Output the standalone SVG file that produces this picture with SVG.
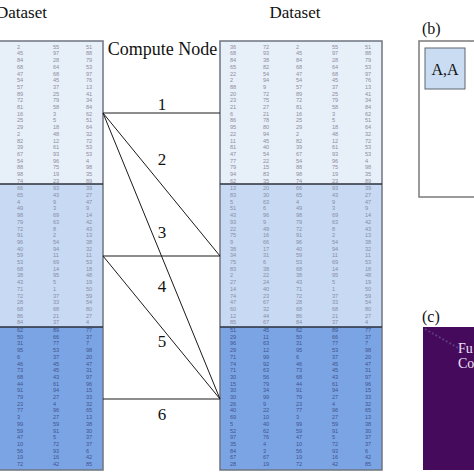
<svg xmlns="http://www.w3.org/2000/svg" xmlns:xlink="http://www.w3.org/1999/xlink" width="474" height="474" viewBox="0 0 474 474">
<style>
.lbl{font-family:"Liberation Serif","Times New Roman",serif;fill:#111}
.n{font-family:"Liberation Sans",Arial,sans-serif;font-size:5.6px}
.t1{fill:#8e8e9e}
.t2{fill:#8a8ea6}
.t3{fill:#42558c}
.conn{stroke:#1a1a1a;stroke-width:1;fill:none}
</style>
<defs>
<g id="ds">
<rect x="220" y="41" width="162" height="143" fill="#e7eff9"/>
<rect x="220" y="184" width="162" height="143" fill="#c7d9f3"/>
<rect x="220" y="327" width="162" height="143" fill="#7ba4e5"/>
<rect x="220" y="41" width="162" height="429" fill="none" stroke="#6f7480" stroke-width="1.5"/>
<line x1="220" y1="184" x2="382" y2="184" stroke="#2b2f3a" stroke-width="1.3"/>
<line x1="220" y1="327" x2="382" y2="327" stroke="#2b2f3a" stroke-width="1.3"/>
<g class="n t1">
<text y="48.7"><tspan x="230">36</tspan><tspan x="263">72</tspan><tspan x="296">2</tspan><tspan x="332">55</tspan><tspan x="365">51</tspan></text>
<text y="55.4"><tspan x="230">68</tspan><tspan x="263">93</tspan><tspan x="296">45</tspan><tspan x="332">97</tspan><tspan x="365">88</tspan></text>
<text y="62.1"><tspan x="230">84</tspan><tspan x="263">38</tspan><tspan x="296">84</tspan><tspan x="332">28</tspan><tspan x="365">79</tspan></text>
<text y="68.8"><tspan x="230">65</tspan><tspan x="263">82</tspan><tspan x="296">68</tspan><tspan x="332">64</tspan><tspan x="365">53</tspan></text>
<text y="75.5"><tspan x="230">22</tspan><tspan x="263">54</tspan><tspan x="296">47</tspan><tspan x="332">68</tspan><tspan x="365">97</tspan></text>
<text y="82.2"><tspan x="230">2</tspan><tspan x="263">94</tspan><tspan x="296">54</tspan><tspan x="332">45</tspan><tspan x="365">76</tspan></text>
<text y="88.9"><tspan x="230">88</tspan><tspan x="263">9</tspan><tspan x="296">57</tspan><tspan x="332">37</tspan><tspan x="365">13</tspan></text>
<text y="95.6"><tspan x="230">20</tspan><tspan x="263">72</tspan><tspan x="296">89</tspan><tspan x="332">25</tspan><tspan x="365">41</tspan></text>
<text y="102.3"><tspan x="230">23</tspan><tspan x="263">75</tspan><tspan x="296">72</tspan><tspan x="332">79</tspan><tspan x="365">34</tspan></text>
<text y="109"><tspan x="230">21</tspan><tspan x="263">27</tspan><tspan x="296">81</tspan><tspan x="332">58</tspan><tspan x="365">84</tspan></text>
<text y="115.7"><tspan x="230">6</tspan><tspan x="263">21</tspan><tspan x="296">16</tspan><tspan x="332">3</tspan><tspan x="365">62</tspan></text>
<text y="122.4"><tspan x="230">86</tspan><tspan x="263">78</tspan><tspan x="296">25</tspan><tspan x="332">5</tspan><tspan x="365">51</tspan></text>
<text y="129.1"><tspan x="230">95</tspan><tspan x="263">80</tspan><tspan x="296">29</tspan><tspan x="332">18</tspan><tspan x="365">64</tspan></text>
<text y="135.8"><tspan x="230">22</tspan><tspan x="263">94</tspan><tspan x="296">2</tspan><tspan x="332">48</tspan><tspan x="365">32</tspan></text>
<text y="142.5"><tspan x="230">11</tspan><tspan x="263">45</tspan><tspan x="296">82</tspan><tspan x="332">12</tspan><tspan x="365">72</tspan></text>
<text y="149.2"><tspan x="230">81</tspan><tspan x="263">40</tspan><tspan x="296">39</tspan><tspan x="332">61</tspan><tspan x="365">53</tspan></text>
<text y="155.9"><tspan x="230">47</tspan><tspan x="263">54</tspan><tspan x="296">67</tspan><tspan x="332">93</tspan><tspan x="365">53</tspan></text>
<text y="162.6"><tspan x="230">77</tspan><tspan x="263">22</tspan><tspan x="296">54</tspan><tspan x="332">96</tspan><tspan x="365">4</tspan></text>
<text y="169.3"><tspan x="230">79</tspan><tspan x="263">15</tspan><tspan x="296">88</tspan><tspan x="332">75</tspan><tspan x="365">98</tspan></text>
<text y="176"><tspan x="230">94</tspan><tspan x="263">83</tspan><tspan x="296">98</tspan><tspan x="332">19</tspan><tspan x="365">35</tspan></text>
<text y="182.7"><tspan x="230">62</tspan><tspan x="263">35</tspan><tspan x="296">74</tspan><tspan x="332">23</tspan><tspan x="365">89</tspan></text>
</g>
<g class="n t2">
<text y="190.3"><tspan x="230">13</tspan><tspan x="263">20</tspan><tspan x="296">66</tspan><tspan x="332">93</tspan><tspan x="365">39</tspan></text>
<text y="197"><tspan x="230">83</tspan><tspan x="263">30</tspan><tspan x="296">65</tspan><tspan x="332">43</tspan><tspan x="365">27</tspan></text>
<text y="203.7"><tspan x="230">5</tspan><tspan x="263">63</tspan><tspan x="296">4</tspan><tspan x="332">9</tspan><tspan x="365">47</tspan></text>
<text y="210.4"><tspan x="230">51</tspan><tspan x="263">6</tspan><tspan x="296">49</tspan><tspan x="332">3</tspan><tspan x="365">9</tspan></text>
<text y="217.1"><tspan x="230">43</tspan><tspan x="263">96</tspan><tspan x="296">98</tspan><tspan x="332">69</tspan><tspan x="365">14</tspan></text>
<text y="223.8"><tspan x="230">93</tspan><tspan x="263">9</tspan><tspan x="296">79</tspan><tspan x="332">63</tspan><tspan x="365">42</tspan></text>
<text y="230.5"><tspan x="230">22</tspan><tspan x="263">49</tspan><tspan x="296">72</tspan><tspan x="332">8</tspan><tspan x="365">43</tspan></text>
<text y="237.2"><tspan x="230">75</tspan><tspan x="263">16</tspan><tspan x="296">91</tspan><tspan x="332">2</tspan><tspan x="365">13</tspan></text>
<text y="243.9"><tspan x="230">9</tspan><tspan x="263">66</tspan><tspan x="296">96</tspan><tspan x="332">54</tspan><tspan x="365">38</tspan></text>
<text y="250.6"><tspan x="230">38</tspan><tspan x="263">17</tspan><tspan x="296">40</tspan><tspan x="332">94</tspan><tspan x="365">32</tspan></text>
<text y="257.3"><tspan x="230">34</tspan><tspan x="263">31</tspan><tspan x="296">59</tspan><tspan x="332">11</tspan><tspan x="365">11</tspan></text>
<text y="264"><tspan x="230">75</tspan><tspan x="263">6</tspan><tspan x="296">53</tspan><tspan x="332">69</tspan><tspan x="365">53</tspan></text>
<text y="270.7"><tspan x="230">83</tspan><tspan x="263">38</tspan><tspan x="296">68</tspan><tspan x="332">14</tspan><tspan x="365">18</tspan></text>
<text y="277.4"><tspan x="230">2</tspan><tspan x="263">22</tspan><tspan x="296">38</tspan><tspan x="332">95</tspan><tspan x="365">48</tspan></text>
<text y="284.1"><tspan x="230">27</tspan><tspan x="263">24</tspan><tspan x="296">43</tspan><tspan x="332">5</tspan><tspan x="365">19</tspan></text>
<text y="290.8"><tspan x="230">14</tspan><tspan x="263">40</tspan><tspan x="296">71</tspan><tspan x="332">1</tspan><tspan x="365">50</tspan></text>
<text y="297.5"><tspan x="230">74</tspan><tspan x="263">23</tspan><tspan x="296">72</tspan><tspan x="332">37</tspan><tspan x="365">59</tspan></text>
<text y="304.2"><tspan x="230">47</tspan><tspan x="263">67</tspan><tspan x="296">28</tspan><tspan x="332">33</tspan><tspan x="365">54</tspan></text>
<text y="310.9"><tspan x="230">60</tspan><tspan x="263">32</tspan><tspan x="296">68</tspan><tspan x="332">68</tspan><tspan x="365">80</tspan></text>
<text y="317.6"><tspan x="230">12</tspan><tspan x="263">44</tspan><tspan x="296">86</tspan><tspan x="332">21</tspan><tspan x="365">27</tspan></text>
<text y="324.3"><tspan x="230">85</tspan><tspan x="263">67</tspan><tspan x="296">84</tspan><tspan x="332">37</tspan><tspan x="365">4</tspan></text>
</g>
<g class="n t3">
<text y="332"><tspan x="230">51</tspan><tspan x="263">45</tspan><tspan x="296">62</tspan><tspan x="332">89</tspan><tspan x="365">77</tspan></text>
<text y="338.7"><tspan x="230">29</tspan><tspan x="263">11</tspan><tspan x="296">50</tspan><tspan x="332">66</tspan><tspan x="365">37</tspan></text>
<text y="345.4"><tspan x="230">96</tspan><tspan x="263">63</tspan><tspan x="296">31</tspan><tspan x="332">77</tspan><tspan x="365">7</tspan></text>
<text y="352.1"><tspan x="230">29</tspan><tspan x="263">12</tspan><tspan x="296">95</tspan><tspan x="332">53</tspan><tspan x="365">98</tspan></text>
<text y="358.8"><tspan x="230">71</tspan><tspan x="263">99</tspan><tspan x="296">6</tspan><tspan x="332">37</tspan><tspan x="365">20</tspan></text>
<text y="365.5"><tspan x="230">74</tspan><tspan x="263">92</tspan><tspan x="296">46</tspan><tspan x="332">45</tspan><tspan x="365">47</tspan></text>
<text y="372.2"><tspan x="230">71</tspan><tspan x="263">63</tspan><tspan x="296">73</tspan><tspan x="332">45</tspan><tspan x="365">31</tspan></text>
<text y="378.9"><tspan x="230">30</tspan><tspan x="263">56</tspan><tspan x="296">68</tspan><tspan x="332">43</tspan><tspan x="365">97</tspan></text>
<text y="385.6"><tspan x="230">15</tspan><tspan x="263">79</tspan><tspan x="296">44</tspan><tspan x="332">61</tspan><tspan x="365">96</tspan></text>
<text y="392.3"><tspan x="230">30</tspan><tspan x="263">34</tspan><tspan x="296">91</tspan><tspan x="332">94</tspan><tspan x="365">15</tspan></text>
<text y="399"><tspan x="230">30</tspan><tspan x="263">99</tspan><tspan x="296">79</tspan><tspan x="332">27</tspan><tspan x="365">33</tspan></text>
<text y="405.7"><tspan x="230">26</tspan><tspan x="263">9</tspan><tspan x="296">23</tspan><tspan x="332">4</tspan><tspan x="365">32</tspan></text>
<text y="412.4"><tspan x="230">40</tspan><tspan x="263">22</tspan><tspan x="296">77</tspan><tspan x="332">96</tspan><tspan x="365">65</tspan></text>
<text y="419.1"><tspan x="230">69</tspan><tspan x="263">10</tspan><tspan x="296">3</tspan><tspan x="332">27</tspan><tspan x="365">13</tspan></text>
<text y="425.8"><tspan x="230">5</tspan><tspan x="263">40</tspan><tspan x="296">99</tspan><tspan x="332">59</tspan><tspan x="365">38</tspan></text>
<text y="432.5"><tspan x="230">52</tspan><tspan x="263">62</tspan><tspan x="296">59</tspan><tspan x="332">91</tspan><tspan x="365">30</tspan></text>
<text y="439.2"><tspan x="230">97</tspan><tspan x="263">76</tspan><tspan x="296">47</tspan><tspan x="332">5</tspan><tspan x="365">37</tspan></text>
<text y="445.9"><tspan x="230">35</tspan><tspan x="263">4</tspan><tspan x="296">10</tspan><tspan x="332">72</tspan><tspan x="365">37</tspan></text>
<text y="452.6"><tspan x="230">84</tspan><tspan x="263">3</tspan><tspan x="296">56</tspan><tspan x="332">93</tspan><tspan x="365">6</tspan></text>
<text y="459.3"><tspan x="230">67</tspan><tspan x="263">67</tspan><tspan x="296">19</tspan><tspan x="332">16</tspan><tspan x="365">42</tspan></text>
<text y="466"><tspan x="230">28</tspan><tspan x="263">19</tspan><tspan x="296">72</tspan><tspan x="332">42</tspan><tspan x="365">85</tspan></text>
</g>
</g>
</defs>
<rect width="474" height="474" fill="#ffffff"/>

<g id="dataset-left">
<use xlink:href="#ds" href="#ds" transform="translate(-279,0)"/>
<text class="lbl" x="47" y="18" font-size="17" text-anchor="end">Dataset</text>
</g>

<g id="compute-node">
<text class="lbl" x="162.5" y="55" font-size="18" text-anchor="middle">Compute Node</text>
</g>

<g id="dataset-right">
<use xlink:href="#ds" href="#ds"/>
<text class="lbl" x="295" y="18" font-size="17" text-anchor="middle">Dataset</text>
</g>

<g id="connectors">
<line class="conn" x1="103" y1="113" x2="220" y2="113"/>
<line class="conn" x1="103" y1="113" x2="220" y2="256"/>
<line class="conn" x1="103" y1="113" x2="220" y2="399"/>
<line class="conn" x1="103" y1="256" x2="220" y2="256"/>
<line class="conn" x1="103" y1="256" x2="220" y2="399"/>
<line class="conn" x1="103" y1="399" x2="220" y2="399"/>
<g class="lbl" font-size="17" text-anchor="middle">
<text x="162" y="110">1</text>
<text x="162" y="165">2</text>
<text x="162" y="238">3</text>
<text x="162" y="292">4</text>
<text x="162" y="347">5</text>
<text x="162" y="420">6</text>
</g>
</g>

<g id="panel-b">
<text class="lbl" x="422" y="34" font-size="16">(b)</text>
<rect x="419" y="41" width="70" height="156" fill="#ffffff" stroke="#7a7a7a" stroke-width="1.5"/>
<g id="node-AA">
<rect x="425" y="48" width="40" height="41" fill="#c9dcf1" stroke="#5f6670" stroke-width="1"/>
<text class="lbl" x="445" y="75" font-size="16" text-anchor="middle">A,A</text>
</g>
</g>

<g id="panel-c">
<text class="lbl" x="422" y="322" font-size="16">(c)</text>
<rect x="423" y="327" width="60" height="143" fill="#450a5c"/>
<line x1="425" y1="329" x2="458" y2="348" stroke="#6a4a8a" stroke-width="2" stroke-dasharray="2 2" opacity="0.7"/>
<text x="458" y="353" font-size="14" fill="#efe3f7" font-family="Liberation Serif, serif">Fu</text>
<text x="458" y="368" font-size="14" fill="#efe3f7" font-family="Liberation Serif, serif">Co</text>
</g>
</svg>
